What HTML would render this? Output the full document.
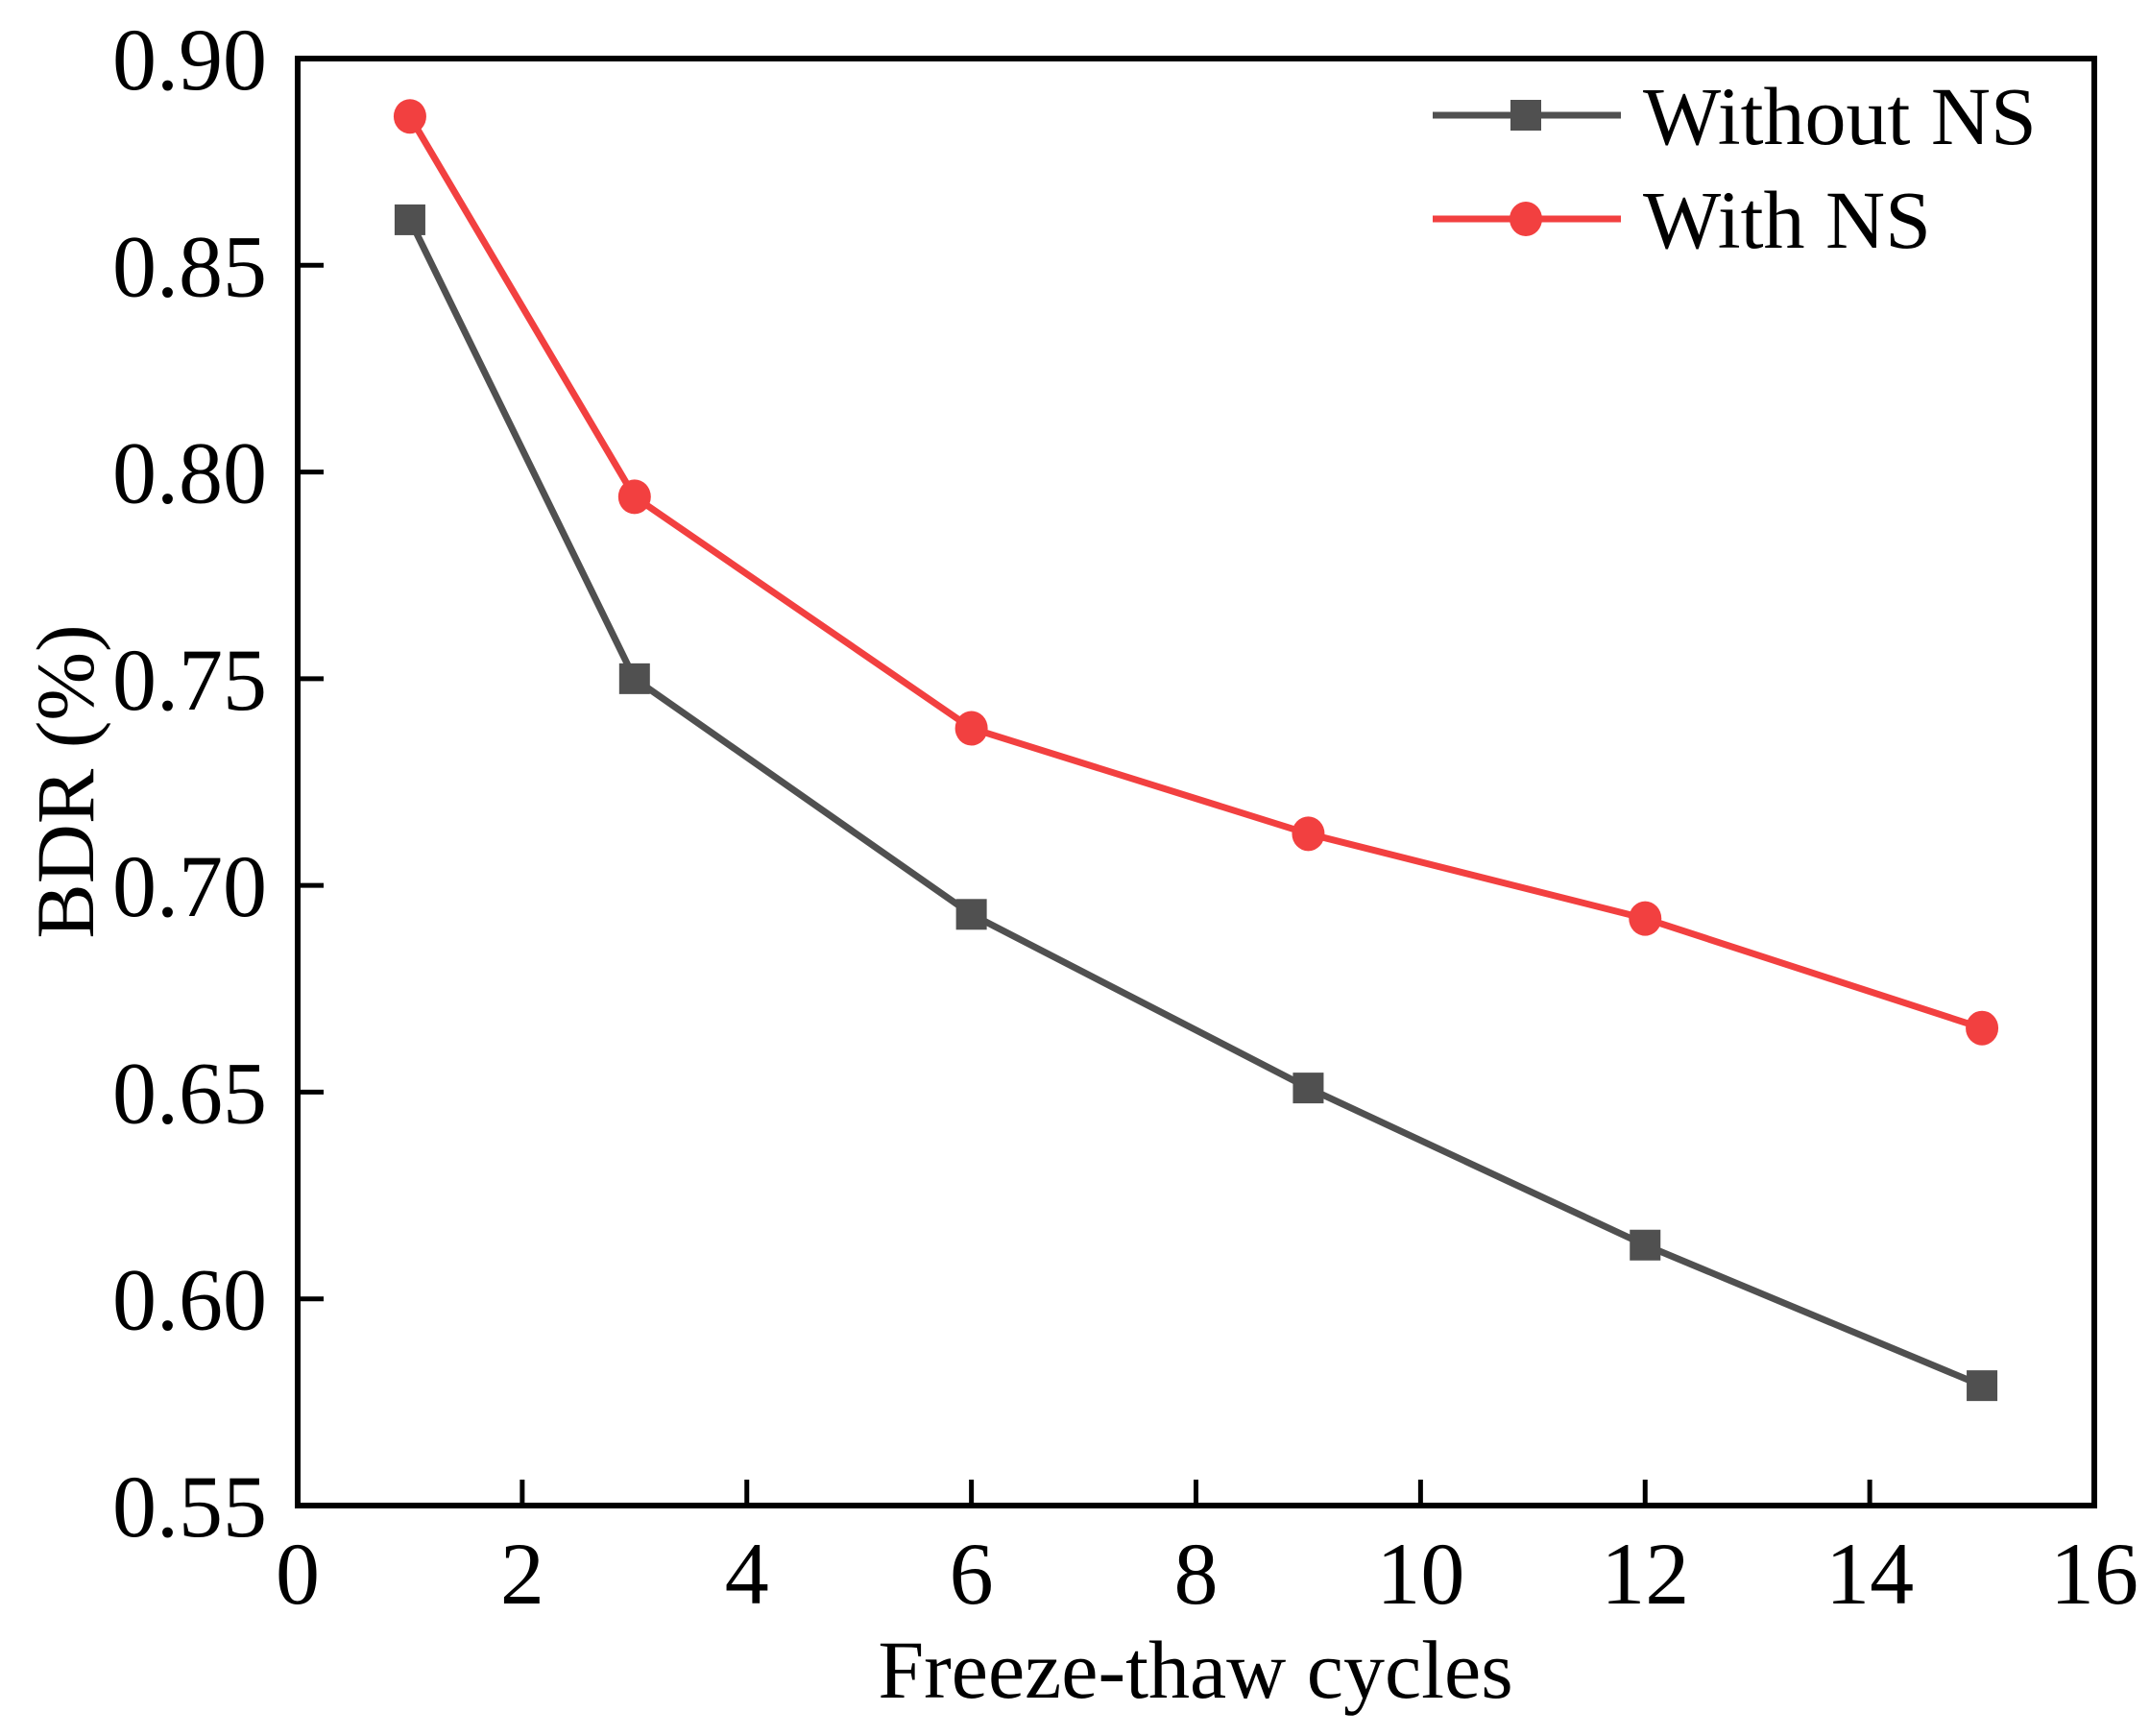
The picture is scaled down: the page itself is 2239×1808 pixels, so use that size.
<!DOCTYPE html>
<html><head><meta charset="utf-8"><style>
html,body{margin:0;padding:0;background:#fff}
svg text{font-family:"Liberation Serif",serif;fill:#000}
</style></head><body>
<svg id="chart" width="2239" height="1803" viewBox="0 0 2239 1803" xmlns="http://www.w3.org/2000/svg">
<g id="plot"></g>
</svg>
<script>
const cycles = [1, 3, 6, 9, 12, 15];
const withoutNS = [0.861, 0.750, 0.693, 0.651, 0.613, 0.579];
const withNS = [0.886, 0.794, 0.738, 0.7125, 0.692, 0.6655];
const xTicks = [0, 2, 4, 6, 8, 10, 12, 14, 16];
const yTicks = [0.55, 0.60, 0.65, 0.70, 0.75, 0.80, 0.85, 0.90];

const L = 310, R = 2181, T = 61, B = 1568;
const xMin = 0, xMax = 16, yMin = 0.55, yMax = 0.90;
function sx(v){ return L + (v - xMin) / (xMax - xMin) * (R - L); }
function sy(v){ return B - (v - yMin) / (yMax - yMin) * (B - T); }
const NS = "http://www.w3.org/2000/svg";
const g = document.getElementById('plot');
function el(tag, attrs, parent){ const e = document.createElementNS(NS, tag); for (const k in attrs) e.setAttribute(k, attrs[k]); (parent||g).appendChild(e); return e; }

const frame = el('rect', {x:L, y:T, width:R-L, height:B-T, fill:'none', stroke:'#000', 'stroke-width':6});



xTicks.forEach(v => {
  const x = sx(v);
  if (v !== xMin && v !== xMax) {
    const t = el('line', {x1:x, y1:B, x2:x, y2:B-27, stroke:'#000', 'stroke-width':5});
    
    
  }
  const lb = el('text', {x:x, y:1670, 'font-size':92, 'text-anchor':'middle'});
  lb.textContent = String(v);
  
  
});
yTicks.forEach(v => {
  const y = sy(v);
  if (v !== yMin && v !== yMax) {
    const t = el('line', {x1:L, y1:y, x2:L+27, y2:y, stroke:'#000', 'stroke-width':5});
    
    
  }
  const lb = el('text', {x:278, y:y+32, 'font-size':92, 'text-anchor':'end'});
  lb.textContent = v.toFixed(2);
  
  
});

const xt = el('text', {x:1245, y:1768, 'font-size':86, 'text-anchor':'middle'});
xt.textContent = 'Freeze-thaw cycles';


const yt = el('text', {x:0, y:0, 'font-size':86, 'text-anchor':'middle', transform:'translate(97,814) rotate(-90)'});
yt.textContent = 'BDR (%)';



function series(vals, color, shape, name){
  const pts = cycles.map((c,i) => sx(c) + ',' + sy(vals[i])).join(' ');
  const pl = el('polyline', {points:pts, fill:'none', stroke:color, 'stroke-width':7, 'stroke-linejoin':'round'});
  
  
  cycles.forEach((c,i) => {
    let m;
    if (shape === 'square') m = el('rect', {x:sx(c)-16, y:sy(vals[i])-16, width:32, height:32, fill:color});
    else m = el('ellipse', {cx:sx(c), cy:sy(vals[i]), rx:17, ry:18, fill:color});
    
    
  });
}
series(withoutNS, '#505050', 'square', 'without-ns');
series(withNS, '#f24040', 'circle', 'with-ns');

function legend(y, color, shape, label, name){
  const ln = el('line', {x1:1492, y1:y, x2:1688, y2:y, stroke:color, 'stroke-width':7});
  
  
  let m;
  if (shape === 'square') m = el('rect', {x:1573, y:y-16, width:32, height:32, fill:color});
  else m = el('ellipse', {cx:1589, cy:y, rx:17, ry:18, fill:color});
  
  
  const t = el('text', {x:1711, y:y+30, 'font-size':86});
  t.textContent = label;
  
  
}
legend(120, '#505050', 'square', 'Without NS', 'without-ns');
legend(228, '#f24040', 'circle', 'With NS', 'with-ns');
</script>
</body></html>
